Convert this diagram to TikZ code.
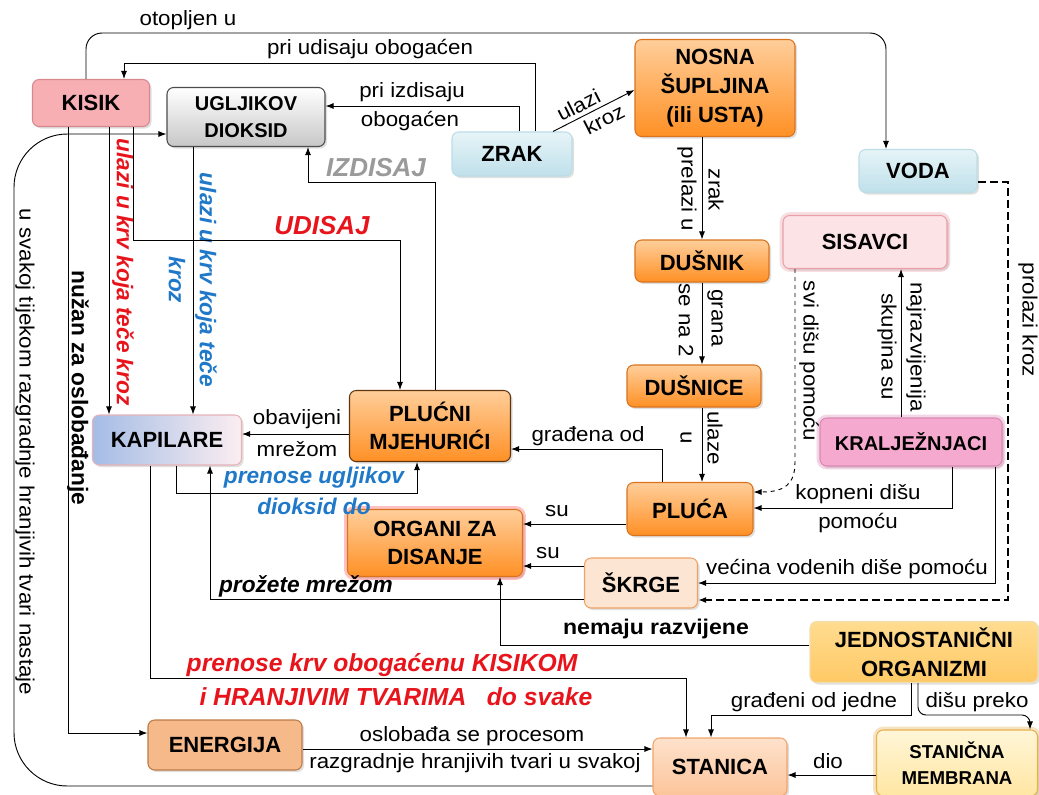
\documentclass[tikz,border=0pt]{standalone}
\usepackage{fontspec}
\setmainfont{Liberation Sans}
\newfontfamily\lblfont[FakeStretch=1.08]{Liberation Sans}
\usetikzlibrary{arrows.meta,shadows}

\definecolor{redlbl}{HTML}{E8141C}
\definecolor{bluelbl}{HTML}{1F78C8}
\definecolor{graylbl}{HTML}{9A9A9A}
\definecolor{orangetop}{HTML}{FFCE9A}
\definecolor{orangebot}{HTML}{FF9025}
\definecolor{orangeedge}{HTML}{D9731E}
\definecolor{kisikfill}{HTML}{F7AFB4}
\definecolor{kisikedge}{HTML}{D7888E}
\definecolor{zraktop}{HTML}{E6F4F8}
\definecolor{zrakbot}{HTML}{BFE0EA}
\definecolor{zrakedge}{HTML}{BCDDE6}
\definecolor{sisfill}{HTML}{FCE4E6}
\definecolor{sisedge}{HTML}{E8A0AA}
\definecolor{kraljfill}{HTML}{F6A9CF}
\definecolor{kraljedge}{HTML}{D98AB4}
\definecolor{kapleft}{HTML}{A5BCE6}
\definecolor{kapmid}{HTML}{F2CDD2}
\definecolor{kapright}{HTML}{FBEEF0}
\definecolor{kapedge}{HTML}{E5B3B8}
\definecolor{skrgefill}{HTML}{FDE5D3}
\definecolor{skrgeedge}{HTML}{F0A264}
\definecolor{jedtop}{HTML}{FFDC90}
\definecolor{jedbot}{HTML}{FFC965}
\definecolor{jededge}{HTML}{F2DDB0}
\definecolor{energfill}{HTML}{F6B98A}
\definecolor{energedge}{HTML}{BD7B45}
\definecolor{stantop}{HTML}{FEE2CC}
\definecolor{stanbot}{HTML}{FCC49A}
\definecolor{stanedge}{HTML}{F1A46C}
\definecolor{memtop}{HTML}{FFF6D8}
\definecolor{membot}{HTML}{FFE6A2}
\definecolor{memedge}{HTML}{E6B050}

\tikzset{
  box/.style={draw, rounded corners=5pt, line width=0.8pt, align=center,
    inner sep=0pt, font=\bfseries\fontsize{16.5}{21.5}\selectfont,
    drop shadow={opacity=0.25, shadow xshift=1.5pt, shadow yshift=-1.5pt}},
  sz/.style 2 args={minimum width=#1*0.75pt, minimum height=#2*0.75pt},
  orangebox/.style={box, top color=orangetop, bottom color=orangebot, draw=orangeedge},
  glow/.style={preaction={draw=#1, line width=5pt, opacity=0.35}},
  arr/.style={-{Latex[length=6pt,width=4.5pt]}, line width=0.7pt},
  lbl/.style={font=\lblfont\fontsize{15.5}{17}\selectfont, inner sep=1pt},
  bl/.style={font=\bfseries\itshape\fontsize{17}{19}\selectfont, inner sep=1pt}
}

\begin{document}
\begin{tikzpicture}[x=0.75pt,y=-0.75pt]

  \useasboundingbox (0,0) rectangle (1039,794);

  % concepts
  \node[box, sz={117}{47}, fill=kisikfill, draw=kisikedge] (kisik) at (91,103) {KISIK};
  \node[box, sz={158}{59}, top color=white, bottom color=black!22, draw=black!70,
    font=\bfseries\fontsize{15}{20}\selectfont] (ugl) at (246,117) {UGLJIKOV\\DIOKSID};
  \node[box, sz={120}{44}, top color=zraktop, bottom color=zrakbot, draw=zrakedge] (zrak) at (512,154) {ZRAK};
  \node[orangebox, sz={160}{97}] (nosna) at (715,88) {NOSNA\\ŠUPLJINA\\(ili USTA)};
  \node[box, sz={118}{43}, top color=zraktop, bottom color=zrakbot, draw=zrakedge] (voda) at (918,171) {VODA};
  \node[box, sz={164}{53}, fill=sisfill, draw=sisedge, glow=sisedge] (sisavci) at (865,242) {SISAVCI};
  \node[orangebox, sz={134}{42}] (dusnik) at (702,261) {DUŠNIK};
  \node[orangebox, sz={134}{42}] (dusnice) at (694,386) {DUŠNICE};
  \node[box, sz={182}{48}, fill=kraljfill, draw=kraljedge, glow=kraljedge,
    font=\bfseries\fontsize{15}{20}\selectfont] (kralj) at (911,442) {KRALJEŽNJACI};
  \node[orangebox, sz={161}{71}, draw=black!55!orangeedge] (plm) at (430,426) {PLUĆNI\\MJEHURIĆI};
  \node[box, sz={149}{50}, left color=kapleft, middle color=kapmid, right color=kapright,
    draw=kapedge] (kap) at (167,440) {KAPILARE};
  \node[orangebox, sz={126}{53}] (pluca) at (690,509) {PLUĆA};
  \node[orangebox, sz={175}{67}, glow=red!70] (organi) at (435,543) {ORGANI ZA\\DISANJE};
  \node[box, sz={113}{50}, fill=skrgefill, draw=skrgeedge] (skrge) at (641,583) {ŠKRGE};
  \node[box, sz={228}{61}, top color=jedtop, bottom color=jedbot, draw=jededge]
    (jedno) at (924,652) {JEDNOSTANIČNI\\ORGANIZMI};
  \node[box, sz={154}{50}, fill=energfill, draw=energedge] (energ) at (225,745) {ENERGIJA};
  \node[box, sz={134}{58}, top color=stantop, bottom color=stanbot, draw=stanedge]
    (stanica) at (720,767) {STANICA};
  \node[box, sz={161}{66}, top color=memtop, bottom color=membot, draw=memedge,
    glow=memedge, font=\bfseries\fontsize{14}{19}\selectfont]
    (membrana) at (957,763) {STANIČNA\\MEMBRANA};

  % KISIK, VODA, ZRAK
  \draw[arr, rounded corners=12pt] (kisik.north -| 86,0) -- (86,33) -- (886,33) -- (voda.north -| 886,0);
  \node[lbl] at (188,20) {otopljen u};
  \draw[arr] (zrak.north -| 535,0) -- (535,63) -- (124,63) -- (kisik.north -| 124,0);
  \node[lbl] at (370,49) {pri udisaju obogaćen};
  \draw[arr] (zrak.north -| 519,0) -- (519,106) -- (ugl.east |- 0,106);
  \node[lbl] at (412,92) {pri izdisaju};
  \node[lbl] at (410,121) {obogaćen};
  \draw[arr] (zrak.north -| 553,0) -- (nosna.west |- 0,90)
    node[lbl, pos=0.38, sloped, above=2pt] {ulazi}
    node[lbl, pos=0.56, sloped, below=2pt] {kroz};

  % dišni put
  \draw[arr] (nosna.south -| 702,0) -- (dusnik.north -| 702,0);
  \node[lbl, rotate=-90] at (687,189) {prelazi u};
  \node[lbl, rotate=-90] at (716,190) {zrak};
  \draw[arr] (dusnik.south -| 702,0) -- (dusnice.north -| 702,0);
  \node[lbl, rotate=-90] at (686,320) {se na 2};
  \node[lbl, rotate=-90] at (715,318) {grana};
  \draw[arr] (dusnice.south -| 702,0) -- (pluca.north -| 702,0);
  \node[lbl, rotate=-90] at (715,438) {ulaze};
  \node[lbl, rotate=-90] at (686,438) {u};

  % kralježnjaci
  \draw[arr] (kralj.north -| 901,0) -- (sisavci.south -| 901,0);
  \node[lbl, rotate=-90] at (916,347) {najrazvijenija};
  \node[lbl, rotate=-90] at (887,347) {skupina su};
  \draw[arr, dashed] (sisavci.south -| 795,0) -- (795,462)
    .. controls (795,484) and (785,492) .. (pluca.east |- 0,492);
  \node[lbl, rotate=-90] at (809,361) {svi dišu pomoću};
  \draw[arr] (kralj.south -| 952,0) -- (952,508) -- (pluca.east |- 0,508);
  \node[lbl] at (858,494) {kopneni dišu};
  \node[lbl] at (858,523) {pomoću};
  \draw[arr] (kralj.south -| 995,0) -- (995,583) -- (skrge.east |- 0,583);
  \node[lbl] at (847,569) {većina vodenih diše pomoću};
  \draw[arr, line width=1.4pt, dash pattern=on 6pt off 3pt] (voda.east |- 0,182) -- (1008,182)
    -- (1008,600) -- (skrge.east |- 0,600);
  \node[lbl, rotate=-90] at (1028,320) {prolazi kroz};

  % organi za disanje
  \draw[arr] (pluca.west |- 0,524) -- (organi.east |- 0,524);
  \node[lbl] at (557,511) {su};
  \draw[arr] (skrge.west |- 0,566) -- (organi.east |- 0,566);
  \node[lbl] at (548,553) {su};
  \draw[arr] (pluca.north -| 662,0) -- (662,449) -- (plm.east |- 0,449);
  \node[lbl] at (588,436) {građena od};
  \draw[arr] (plm.west |- 0,434) -- (kap.east |- 0,434);
  \node[lbl] at (297,419) {obavijeni};
  \node[lbl] at (297,449) {mrežom};
  \draw[arr] (kap.south -| 176,0) -- (176,493) -- (417,493) -- (plm.south -| 417,0);
  \node[bl, text=bluelbl] at (314,478) {prenose ugljikov};
  \node[bl, text=bluelbl] at (314,506) {dioksid do};
  \draw[arr] (skrge.west |- 0,599) -- (210,599) -- (kap.south -| 210,0);
  \node[bl] at (306,586) {prožete mrežom};
  \draw[arr] (jedno.west |- 0,645) -- (500,645) -- (organi.south -| 500,0);
  \node[lbl, font=\lblfont\bfseries\fontsize{16}{18}\selectfont] at (656,629) {nemaju razvijene};

  % stanica
  \draw[arr] (kap.south -| 150,0) -- (150,678) -- (686,678) -- (stanica.north -| 686,0);
  \node[bl, text=redlbl, font=\bfseries\itshape\fontsize{18.5}{20}\selectfont] at (382,665)
    {prenose krv obogaćenu KISIKOM};
  \node[bl, text=redlbl, font=\bfseries\itshape\fontsize{18.5}{20}\selectfont] at (396,697)
    {i HRANJIVIM TVARIMA\ \ \ do svake};
  \draw[arr] (jedno.south -| 911,0) -- (911,715) -- (711,715) -- (stanica.north -| 711,0);
  \node[lbl] at (814,702) {građeni od jedne};
  \draw[arr, rounded corners=6pt] (jedno.south -| 918,0) -- (918,715) -- (1030,715)
    -- (membrana.north -| 1030,0);
  \node[lbl] at (977,702) {dišu preko};
  \draw[arr] (membrana.west |- 0,775) -- (stanica.east |- 0,775);
  \node[lbl] at (828,761) {dio};
  \draw[arr] (energ.east |- 0,749) -- (stanica.west |- 0,749);
  \node[lbl] at (472,736) {oslobađa se procesom};
  \node[lbl] at (475,763) {razgradnje hranjivih tvari u svakoj};

  % energija i ugljikov dioksid
  \draw[arr] (kisik.south -| 68,0) -- (68,733) -- (energ.west |- 0,733);
  \node[bl, font=\bfseries\fontsize{17}{19}\selectfont, rotate=-90] at (78,388) {nužan za oslobađanje};
  \draw[arr, rounded corners=40pt] (stanica.west |- 0,786) -- (14,786) -- (14,134) -- (ugl.west |- 0,134);
  \node[lbl, rotate=-90] at (25,452) {u svakoj tijekom razgradnje hranjivih tvari nastaje};

  % u krv
  \draw[arr] (kisik.south -| 109,0) -- (kap.north -| 109,0);
  \node[bl, text=redlbl, rotate=-90] at (123,272) {ulazi u krv koja teče kroz};
  \draw[arr] (ugl.south -| 193,0) -- (kap.north -| 193,0);
  \node[bl, text=bluelbl, rotate=-90] at (206,280) {ulazi u krv koja teče};
  \node[bl, text=bluelbl, rotate=-90] at (177,280) {kroz};

  % udisaj, izdisaj
  \draw[arr] (kisik.south -| 133,0) -- (133,240) -- (400,240) -- (plm.north -| 400,0);
  \node[bl, text=redlbl, font=\bfseries\itshape\fontsize{19.5}{21}\selectfont] at (322,226) {UDISAJ};
  \draw[arr] (plm.north -| 435,0) -- (435,182) -- (308,182) -- (ugl.south -| 308,0);
  \node[bl, text=graylbl, font=\bfseries\itshape\fontsize{19.5}{21}\selectfont] at (376,168) {IZDISAJ};
\end{tikzpicture}
\end{document}
